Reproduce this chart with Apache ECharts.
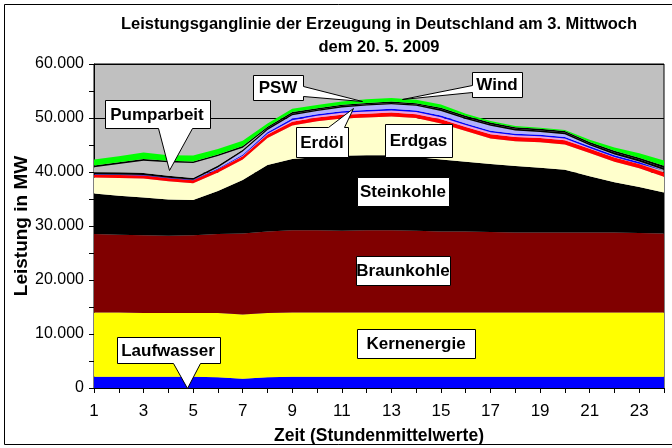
<!DOCTYPE html>
<html><head><meta charset="utf-8">
<script src="https://cdn.jsdelivr.net/npm/echarts/dist/echarts.min.js"></script>
<style>html,body{margin:0;padding:0;background:#fff}#c{width:672px;height:448px}</style>
</head><body><div id="c"></div>
<script>
// ---- data (MW) ----
const hours = ['1','2','3','4','5','6','7','8','9','10','11','12','13','14','15','16','17','18','19','20','21','22','23','24'];
const laufwasser  = [2100,2100,2100,2100,2100,2000,1700,2000,2100,2100,2100,2100,2100,2100,2100,2100,2100,2100,2100,2100,2100,2100,2100,2100];
const kernenergie = [11900,11900,11800,11800,11800,11900,11900,11900,11900,11900,11900,11900,11900,11900,11900,11900,11900,11900,11900,11900,11900,11900,11900,11900];
const braunkohle  = [14500,14400,14400,14300,14400,14600,15000,15100,15200,15200,15100,15200,15200,15100,15000,15000,14900,14800,14800,14800,14800,14800,14700,14600];
const steinkohle  = [7500,7200,7000,6700,6500,8000,9900,12300,13200,13600,13900,13900,13900,13700,13300,12900,12600,12300,12000,11600,10400,9300,8500,7600];
const erdgas      = [3000,3300,3500,3400,3100,3400,3800,5000,6200,6600,6900,7000,7200,7200,6700,5700,4700,4600,4700,4700,4300,3800,3500,2900];
const erdoel      = [500,550,550,550,550,600,600,650,700,700,700,700,700,700,750,750,800,800,800,800,800,800,800,800];
const sonstige    = [0,0,0,0,0,0,100,150,300,300,350,400,400,400,400,350,350,300,300,300,150,100,50,50];
const muell       = [100,100,100,100,100,150,200,250,300,300,300,300,300,300,300,300,300,300,300,300,300,300,300,300];
const psw         = [0,0,0,0,0,200,600,450,600,600,700,800,850,850,850,800,900,600,500,500,200,150,100,100];
const sonst1      = [350,350,350,350,350,350,300,300,300,250,250,250,250,250,300,300,300,300,300,300,300,350,350,400];
const pumparbeit  = [950,1600,2300,2500,2750,1750,400,0,0,0,0,0,0,0,0,0,0,0,0,0,0,0,0,0];
const sonst2      = [300,300,300,300,300,300,300,300,300,250,250,250,250,250,300,300,300,300,300,300,300,350,350,400];
const wind        = [1100,1100,1200,1000,1100,1000,1000,600,600,600,600,650,650,650,600,400,300,200,200,200,400,600,800,1000];

const FONT = "'Liberation Sans',Arial,sans-serif";

const layers = [
  ['Laufwasser', laufwasser, '#0000ff'],
  ['Kernenergie', kernenergie, '#ffff00'],
  ['Braunkohle', braunkohle, '#800000'],
  ['Steinkohle', steinkohle, '#000000'],
  ['Erdgas', erdgas, '#ffffcc'],
  ['Erdöl', erdoel, '#ff0000'],
  ['Sonstige', sonstige, '#f0a0e0'],
  ['Müll', muell, '#0000ff'],
  ['PSW', psw, '#b0b0ff'],
  ['Sonstige 1', sonst1, '#000000'],
  ['Pumparbeit', pumparbeit, '#c0c0c0'],
  ['Sonstige 2', sonst2, '#000000'],
  ['Wind', wind, '#00ff00']
];

const series = layers.map(([name, data, color]) => ({
  name, type: 'line', stack: 'total', data,
  symbol: 'none', showSymbol: false,
  lineStyle: { width: 0, color },
  itemStyle: { color },
  areaStyle: { color, opacity: 1 },
  emphasis: { disabled: true }
}));

function callout(points, cx, cy, text) {
  return [
    { type: 'polygon', z: 100, shape: { points: points.map(p => [p[0] + 0.5, p[1] + 0.5]) },
      style: { fill: '#ffffff', stroke: '#000000', lineWidth: 1 } },
    { type: 'text', z: 101, x: cx, y: cy,
      style: { text, fill: '#000', font: 'bold 17px ' + FONT, align: 'center', verticalAlign: 'middle', textAlign: 'center', textVerticalAlign: 'middle' } }
  ];
}
function box(x1, y1, x2, y2, text) {
  return callout([[x1,y1],[x2,y1],[x2,y2],[x1,y2]], (x1+x2)/2, (y1+y2)/2 + 1, text);
}

const graphics = [].concat(
  [{ type: 'rect', z: 0, shape: { x: 4.5, y: 4.5, width: 700, height: 440 }, style: { fill: 'none', stroke: '#000', lineWidth: 1 } }],
  callout([[105,100],[210,100],[210,128],[192,128],[169,170],[158,128],[105,128]], 157, 115, 'Pumparbeit'),
  callout([[253,75],[303,75],[303,86],[362,101],[303,96],[303,100],[253,100]], 278, 88, 'PSW'),
  callout([[472,72],[522,72],[522,97],[472,97],[472,92],[402,99],[472,85]], 497, 85, 'Wind'),
  callout([[296,127],[328,127],[353,108],[344,127],[348,127],[348,157],[296,157]], 322, 143, 'Erdöl'),
  box(385,124,452,157,'Erdgas'),
  box(357,177,449,206,'Steinkohle'),
  box(356,256,450,285,'Braunkohle'),
  box(357,329,475,358,'Kernenergie'),
  callout([[117,337],[220,337],[220,363],[200,363],[187,388],[173,363],[117,363]], 168, 351, 'Laufwasser')
);

const chart = echarts.init(document.getElementById('c'), null, { renderer: 'canvas' });
chart.setOption({
  animation: false,
  backgroundColor: '#ffffff',
  title: {
    text: 'Leistungsganglinie der Erzeugung in Deutschland am 3. Mittwoch\ndem 20. 5. 2009',
    left: 374, top: 8, textAlign: 'center',
    textStyle: { fontFamily: FONT, fontWeight: 'bold', fontSize: 16.5, lineHeight: 23, color: '#000' }
  },
  grid: { left: 94, right: 8, top: 64, bottom: 60, outerBoundsMode: 'none', containLabel: false,
    show: true, backgroundColor: '#c0c0c0', borderColor: '#000', borderWidth: 1 },
  xAxis: {
    type: 'category', data: hours, boundaryGap: false,
    name: 'Zeit (Stundenmittelwerte)', nameLocation: 'middle', nameGap: 39, nameMoveOverlap: false,
    nameTextStyle: { fontFamily: FONT, fontWeight: 'bold', fontSize: 17.5, color: '#000' },
    axisLine: { lineStyle: { color: '#000', width: 1 } },
    axisTick: { show: true, interval: 0, length: 5, lineStyle: { color: '#000' } },
    axisLabel: { interval: 1, margin: 15, fontFamily: FONT, fontSize: 17, color: '#000' },
    splitLine: { show: false }
  },
  yAxis: {
    type: 'value', min: 0, max: 60000, interval: 10000,
    name: 'Leistung in MW', nameLocation: 'middle', nameGap: 63, nameRotate: 90, nameMoveOverlap: false,
    nameTextStyle: { fontFamily: FONT, fontWeight: 'bold', fontSize: 19, color: '#000' },
    axisLine: { show: true, lineStyle: { color: '#000', width: 1 } },
    axisTick: { show: true, length: 5, lineStyle: { color: '#000' } },
    minorTick: { show: true, splitNumber: 2, length: 5, lineStyle: { color: '#000' } },
    axisLabel: { margin: 10, fontFamily: FONT, fontSize: 16, color: '#000',
      formatter: v => v === 0 ? '0' : (v / 1000).toFixed(3) },
    splitLine: { show: true, lineStyle: { color: '#000', width: 1 } }
  },
  series,
  graphic: graphics
});
</script></body></html>
